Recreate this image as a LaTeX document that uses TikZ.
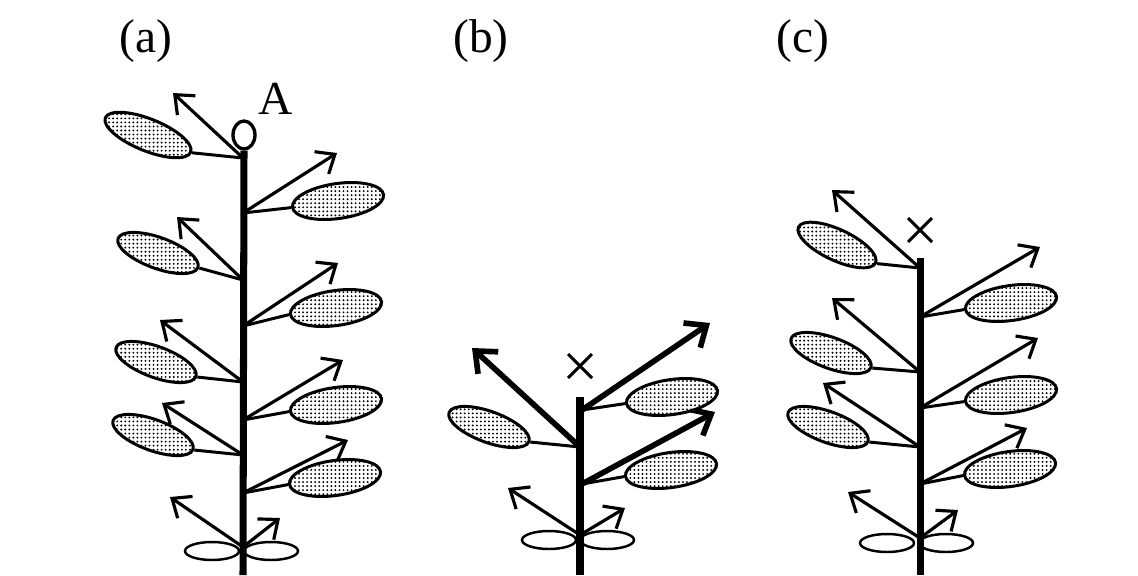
\documentclass[tikz,border=0pt]{standalone}
\usepackage{fontspec}
\setmainfont{Liberation Serif}
\usepackage{tikz}
\usetikzlibrary{arrows.meta,shapes.geometric,shapes.misc,patterns.meta}

\begin{document}
\begin{tikzpicture}[
  x=0.02cm,y=-0.02cm,
  font=\fontsize{27}{30}\selectfont,
  stem/.style={line width=4pt},
  arr/.style={line width=1.8pt,-{Straight Barb[length=9pt,width=15pt]}},
  bigarr/.style={line width=3.2pt,-{Straight Barb[length=10pt,width=17pt]}},
  pet/.style={line width=1.7pt},
  leafl/.style={ellipse,draw,line width=1.7pt,inner sep=0pt,
                minimum width=1.7cm,minimum height=0.62cm,rotate=-20,
                preaction={fill=white},pattern={Dots[distance=2.3pt,radius=0.6pt]}},
  leafr/.style={ellipse,draw,line width=1.7pt,inner sep=0pt,
                minimum width=1.84cm,minimum height=0.7cm,rotate=8,
                preaction={fill=white},pattern={Dots[distance=2.3pt,radius=0.6pt]}},
  coty/.style={ellipse,draw,line width=1.4pt,inner sep=0pt,
               minimum width=1.08cm,minimum height=0.36cm},
  bud/.style={ellipse,draw,fill=white,line width=1.9pt,inner sep=0pt,
              minimum width=0.44cm,minimum height=0.56cm},
  cut/.style={cross out,draw,line width=1.7pt,inner sep=0pt,minimum size=0.42cm},
  lbl/.style={inner sep=0pt}
]
\useasboundingbox (0,0) rectangle (1138,575);

% ---- (a): intact shoot, apical bud A
\node[lbl] (pa) at (146,41) {(a)};
\coordinate (sa0) at (243,575);
\coordinate (sa1) at (243,158); \coordinate (ta1) at (173,93);
\coordinate (sa2) at (243,213); \coordinate (ta2) at (337,153);
\coordinate (sa3) at (243,280); \coordinate (ta3) at (177,217);
\coordinate (sa4) at (243,326); \coordinate (ta4) at (338,263);
\coordinate (sa5) at (243,382); \coordinate (ta5) at (160,320);
\coordinate (sa6) at (243,420); \coordinate (ta6) at (343,360);
\coordinate (sa7) at (243,455); \coordinate (ta7) at (162,403);
\coordinate (sa8) at (243,493); \coordinate (ta8) at (348,440);
\coordinate (sa9) at (243,547);
\coordinate (ta9) at (170,497); \coordinate (ta10) at (280,518);
\draw[arr] (sa1) -- (ta1);
\draw[arr] (sa2) -- (ta2);
\draw[arr] (sa3) -- (ta3);
\draw[arr] (sa4) -- (ta4);
\draw[arr] (sa5) -- (ta5);
\draw[arr] (sa6) -- (ta6);
\draw[arr] (sa7) -- (ta7);
\draw[arr] (sa8) -- (ta8);
\draw[arr] (sa9) -- (ta9);
\draw[arr] (sa9) -- (ta10);
\node[leafl,minimum width=1.84cm,minimum height=0.64cm,rotate=-2] (la1) at (148,135) {};
\node[leafr] (la2) at (338,201) {};
\node[leafl] (la3) at (158,253) {};
\node[leafr] (la4) at (336,308) {};
\node[leafl] (la5) at (156,362) {};
\node[leafr] (la6) at (336,405) {};
\node[leafl] (la7) at (153,435) {};
\node[leafr] (la8) at (335,478) {};
\draw[pet] (la1.east) -- (sa1);
\draw[pet] (la2.west) -- (sa2);
\draw[pet] (la3.east) -- (sa3);
\draw[pet] (la4.west) -- (sa4);
\draw[pet] (la5.east) -- (sa5);
\draw[pet] (la6.west) -- (sa6);
\draw[pet] (la7.east) -- (sa7);
\draw[pet] (la8.west) -- (sa8);
\node[coty] (ca1) at (212,551) {};
\node[coty] (ca2) at (271,551) {};
\node[bud] (bud) at (244,135) {};
\draw[stem] (bud.south) -- (sa0);
\node[lbl] (tA) at (276,99) {A};

% ---- (b): apex removed, upper shoots grow strongly
\node[lbl] (pb) at (481,41) {(b)};
\coordinate (sb0) at (580,575); \coordinate (sbt) at (580,397);
\coordinate (sb1) at (580,447); \coordinate (tb1) at (472,348);
\coordinate (sb2) at (582,410); \coordinate (tb2) at (710,323);
\coordinate (sb3) at (582,484); \coordinate (tb3) at (715,412);
\coordinate (sb4) at (580,535);
\coordinate (tb4) at (508,488); \coordinate (tb5) at (625,508);
\draw[bigarr] (sb1) -- (tb1);
\draw[bigarr] (sb2) -- (tb2);
\draw[bigarr] (sb3) -- (tb3);
\draw[arr] (sb4) -- (tb4);
\draw[arr] (sb4) -- (tb5);
\node[leafl] (lb1) at (489,427) {};
\node[leafr] (lb2) at (672,397) {};
\node[leafr] (lb3) at (671,470) {};
\draw[pet] (lb1.east) -- (sb1);
\draw[pet] (lb2.west) -- (sb2);
\draw[pet] (lb3.west) -- (sb3);
\node[coty] (cb1) at (549,540) {};
\node[coty] (cb2) at (607,540) {};
\draw[stem] (sbt) -- (sb0);
\node[cut] (xb) at (580,366) {};

% ---- (c): apex removed higher up
\node[lbl] (pc) at (803,41) {(c)};
\coordinate (sc0) at (920,575); \coordinate (sct) at (920,258);
\coordinate (sc1) at (920,268); \coordinate (tc1) at (832,190);
\coordinate (sc2) at (920,317); \coordinate (tc2) at (1040,247);
\coordinate (sc3) at (920,372); \coordinate (tc3) at (832,298);
\coordinate (sc4) at (920,408); \coordinate (tc4) at (1038,338);
\coordinate (sc5) at (920,447); \coordinate (tc5) at (823,383);
\coordinate (sc6) at (920,484); \coordinate (tc6) at (1027,428);
\coordinate (sc7) at (920,538);
\coordinate (tc7) at (848,492); \coordinate (tc8) at (958,510);
\draw[arr] (sc1) -- (tc1);
\draw[arr] (sc2) -- (tc2);
\draw[arr] (sc3) -- (tc3);
\draw[arr] (sc4) -- (tc4);
\draw[arr] (sc5) -- (tc5);
\draw[arr] (sc6) -- (tc6);
\draw[arr] (sc7) -- (tc7);
\draw[arr] (sc7) -- (tc8);
\node[leafl,rotate=-5] (lc1) at (837,245) {};
\node[leafr] (lc2) at (1011,303) {};
\node[leafl] (lc3) at (831,353) {};
\node[leafr] (lc4) at (1011,395) {};
\node[leafl] (lc5) at (828,427) {};
\node[leafr] (lc6) at (1010,469) {};
\draw[pet] (lc1.east) -- (sc1);
\draw[pet] (lc2.west) -- (sc2);
\draw[pet] (lc3.east) -- (sc3);
\draw[pet] (lc4.west) -- (sc4);
\draw[pet] (lc5.east) -- (sc5);
\draw[pet] (lc6.west) -- (sc6);
\node[coty] (cc1) at (887,543) {};
\node[coty] (cc2) at (946,543) {};
\draw[stem] (sct) -- (sc0);
\node[cut] (xc) at (920,230) {};
\end{tikzpicture}
\end{document}
